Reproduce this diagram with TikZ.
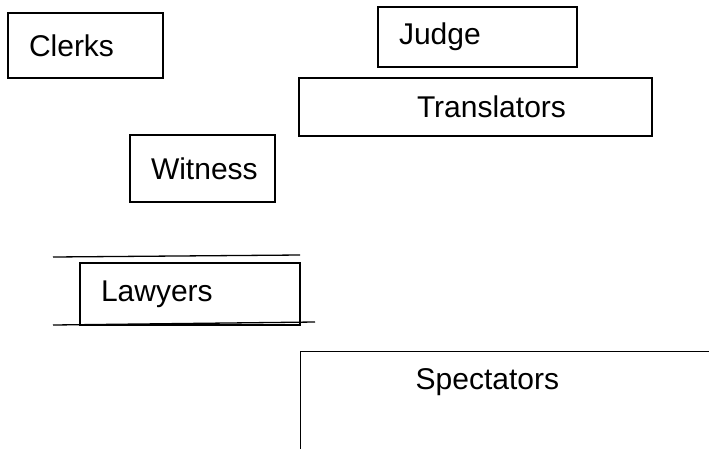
\documentclass[tikz,border=0pt]{standalone}
\usepackage{fontspec}
\setmainfont{Liberation Sans}
\tikzset{
  room/.style={rectangle, draw, line width=1.3pt, align=left, inner xsep=21pt, font=\fontsize{30}{35}\selectfont},
  rail/.style={line width=1.3pt},
}
\begin{document}
\begin{tikzpicture}[x=1pt, y=-1pt]
  \useasboundingbox (0,0) rectangle (709,448);
  \node[room, minimum width=155pt, minimum height=65pt, text width=113pt] (clerks) at (85.5,45.5) {Clerks};
  \node[room, minimum width=199pt, minimum height=60pt, text width=157pt] (judge) at (477.5,37) {Judge};
  \node[room, minimum width=353pt, minimum height=58pt, text width=311pt] (translators) at (475.5,107) {\hspace*{97pt}Translators};
  \node[room, minimum width=145pt, minimum height=67pt, text width=103pt] (witness) at (202.5,168.5) {Witness};
  \node[room, minimum width=220pt, minimum height=62pt, text width=178pt] (lawyers) at (190,294) {Lawyers};
  \node[room, anchor=north west, inner ysep=17pt, text depth=80pt, text width=378pt] (spectators) at (300,351) {\hspace*{94pt}Spectators};
%  bar in front of the lawyers
  \draw[rail] (53,257) -- (300,255);
  \draw[rail] (53,325) -- (315,322);
\end{tikzpicture}
\end{document}
